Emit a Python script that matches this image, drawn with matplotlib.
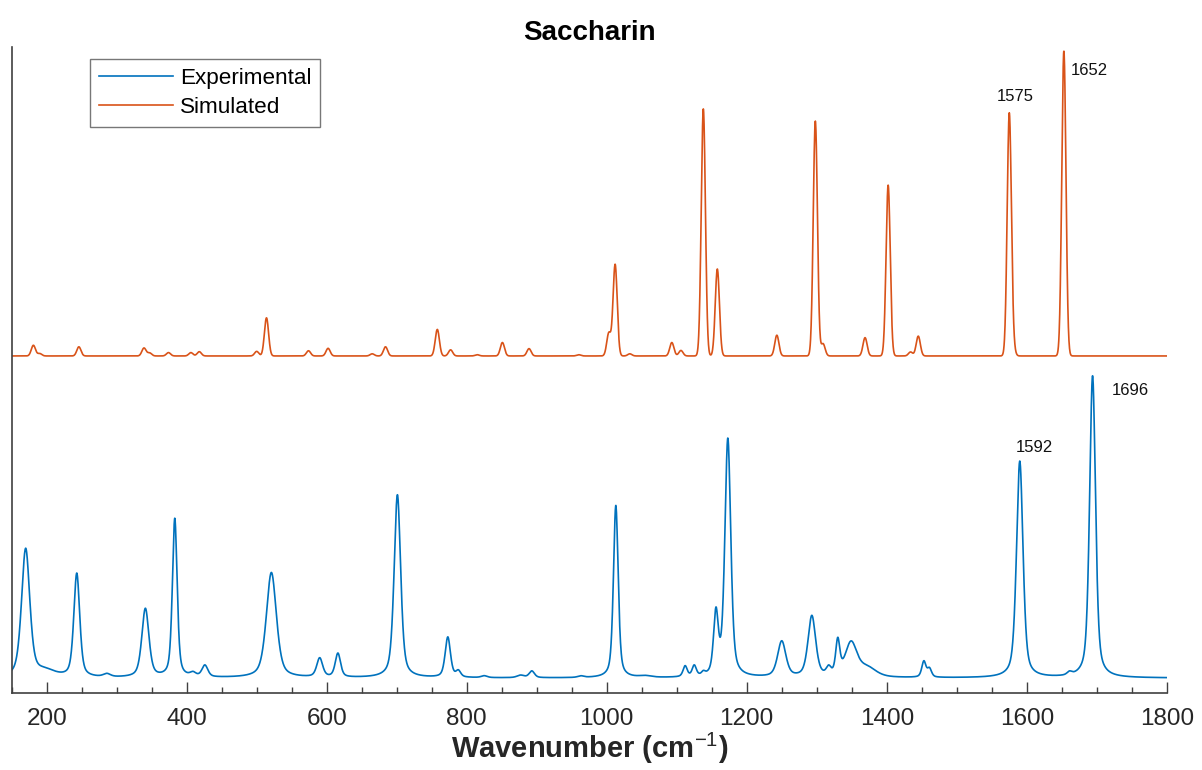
import numpy as np
import matplotlib.pyplot as plt

plt.rcParams['font.family'] = ['Liberation Sans', 'DejaVu Sans']
plt.rcParams['mathtext.fontset'] = 'custom'
plt.rcParams['mathtext.rm'] = 'Liberation Sans'
plt.rcParams['mathtext.bf'] = 'Liberation Sans:bold'

# experimental Raman bands: position (cm-1), peak height, width (cm-1)
exp_pos = [170, 198, 243, 286, 341, 383, 409, 426, 521, 590, 616, 701, 773, 788,
           825, 877, 893, 963, 1013, 1055, 1112, 1125, 1138, 1156, 1173, 1250,
           1293, 1317, 1330, 1349, 1372, 1453, 1461, 1590, 1661, 1694]
exp_height = [0.42, 0.02, 0.34, 0.01, 0.225, 0.52, 0.012, 0.038, 0.345, 0.062, 0.078,
              0.60, 0.132, 0.02, 0.006, 0.008, 0.022, 0.005, 0.565, 0.005, 0.035,
              0.035, 0.01, 0.2, 0.78, 0.117, 0.2, 0.025, 0.11, 0.11, 0.03, 0.052,
              0.028, 0.71, 0.01, 0.99]
exp_width = [14, 35, 10, 12, 12, 8, 10, 10, 17, 10, 9, 11, 9, 8, 10, 12, 9, 10, 8,
             20, 7, 7, 6, 8, 10, 14, 13, 8, 7, 20, 30, 7, 7, 11, 8, 10]

# simulated bands
sim_pos = [181, 190, 246, 339, 347, 374, 406, 418, 500, 514, 574, 602, 665, 684,
           758, 777, 815, 851, 889, 960, 1003, 1012, 1033, 1093, 1106, 1138, 1158,
           1243, 1298, 1309, 1369, 1402, 1434, 1445, 1575, 1580, 1653]
sim_height = [0.035, 0.008, 0.03, 0.026, 0.01, 0.011, 0.011, 0.014, 0.015, 0.125,
              0.017, 0.025, 0.007, 0.03, 0.087, 0.02, 0.004, 0.044, 0.024, 0.004,
              0.075, 0.3, 0.007, 0.044, 0.018, 0.81, 0.285, 0.068, 0.77, 0.04,
              0.06, 0.56, 0.013, 0.065, 0.79, 0.03, 1.0]
sim_width = [7] * len(sim_pos)

sim_offset = 1.056

# peak labels: text, x, y (data units)
exp_labels = [('1592', 1611, 0.757), ('1696', 1748, 0.944)]
sim_labels = [('1575', 1583, 1.905), ('1652', 1690, 1.993)]


def pseudo_voigt(x, pos, h, w, eta):
    y = np.zeros_like(x)
    for p, a, fw in zip(pos, h, w):
        g = np.exp(-4 * np.log(2) * (x - p) ** 2 / fw ** 2)
        lz = (fw / 2) ** 2 / ((x - p) ** 2 + (fw / 2) ** 2)
        y += a * (eta * lz + (1 - eta) * g)
    return y


x = np.linspace(150, 1800, 6000)
y_exp = pseudo_voigt(x, exp_pos, exp_height, exp_width, 0.5)
y_sim = pseudo_voigt(x, sim_pos, sim_height, sim_width, 0.0) + sim_offset

fig = plt.figure(figsize=(12.02, 7.7), dpi=100)
ax = fig.add_axes([0.0097, 0.1, 0.961, 0.839])

ax.plot(x, y_exp, color='#0072BD', lw=1.2, label='Experimental')
ax.plot(x, y_sim, color='#D95319', lw=1.2, label='Simulated')

for txt, tx, ty in exp_labels + sim_labels:
    ax.text(tx, ty, txt, fontsize=12, ha='center', va='center', color='#111111')

ax.set_xlim(150, 1800)
ax.set_ylim(-0.049, 2.069)
ax.set_yticks([])
ax.set_xticks(np.arange(200, 1801, 200))
ax.set_xticks(np.arange(150, 1801, 50), minor=True)
ax.tick_params(axis='x', which='major', direction='in', length=8, width=1,
               labelsize=17.5, pad=11, colors='#404040', labelcolor='#262626')
ax.tick_params(axis='x', which='minor', direction='in', length=4, width=1,
               colors='#404040')
for s in ['top', 'right']:
    ax.spines[s].set_visible(False)
for s in ['left', 'bottom']:
    ax.spines[s].set_color('#404040')
    ax.spines[s].set_linewidth(1.2)

ax.set_xlabel(r'Wavenumber (cm$^{-1}$)', fontsize=21, fontweight='bold',
              color='#262626', labelpad=0.5)
ax.set_title('Saccharin', fontsize=20, fontweight='bold', pad=5)

leg = ax.legend(loc='upper left', bbox_to_anchor=(0.0678, 0.981), fontsize=16.2,
                frameon=True, fancybox=False, edgecolor='#555555',
                handlelength=3.3, borderpad=0.4, labelspacing=0.35,
                handletextpad=0.3, borderaxespad=0)
leg.get_frame().set_linewidth(1.0)

fig.savefig('out.png', dpi=100)
